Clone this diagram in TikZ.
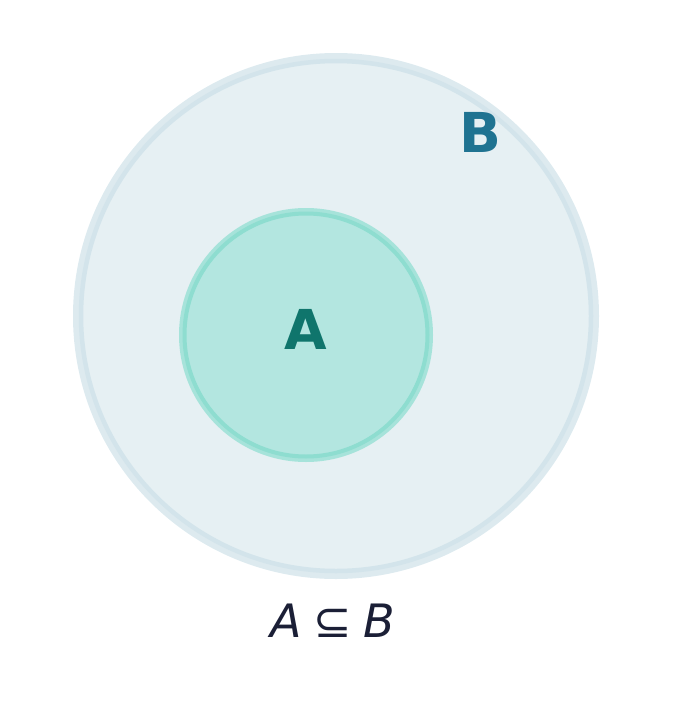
\documentclass[tikz,border=0pt]{standalone}
\usepackage{fontspec}
\setmainfont{DejaVu Sans}
\usepackage{tikz}
\definecolor{bhalo}{HTML}{DDEAEF}
\definecolor{bfill}{HTML}{E6F0F3}
\definecolor{bring}{HTML}{D3E4EB}
\definecolor{ahalo}{HTML}{A6E3DA}
\definecolor{afill}{HTML}{B3E6E0}
\definecolor{aring}{HTML}{8EDDD0}
\definecolor{btext}{HTML}{1F7391}
\definecolor{atext}{HTML}{0F756C}
\definecolor{captext}{HTML}{1B1F36}

\begin{document}
\begin{tikzpicture}[x=1pt,y=-1pt,
  setbox/.style={circle,inner sep=0pt},
  setlabel/.style={font=\fontsize{55}{60}\selectfont\bfseries,inner sep=0pt}]
\useasboundingbox (0,0) rectangle (672,712);
% outer set B
\fill[bhalo] (336,316) circle (263pt);
\node[setbox,fill=bfill,draw=bring,line width=4.5pt,minimum size=510pt] (setB) at (336,316) {};
% inner set A
\fill[ahalo] (306,335) circle (127pt);
\node[setbox,fill=afill,draw=aring,line width=4pt,minimum size=243pt] (setA) at (306,335) {};
% labels
\node[setlabel,text=btext] (labelB) at (480,132) {B};
\node[setlabel,text=atext] (labelA) at (306,329) {A};
\node[font=\fontsize{46}{50}\selectfont,text=captext,inner sep=0pt] (caption) at (333,621)
  {\itshape A\hspace{0.25em}\upshape ⊆\hspace{0.25em}\itshape B};
\end{tikzpicture}
\end{document}
